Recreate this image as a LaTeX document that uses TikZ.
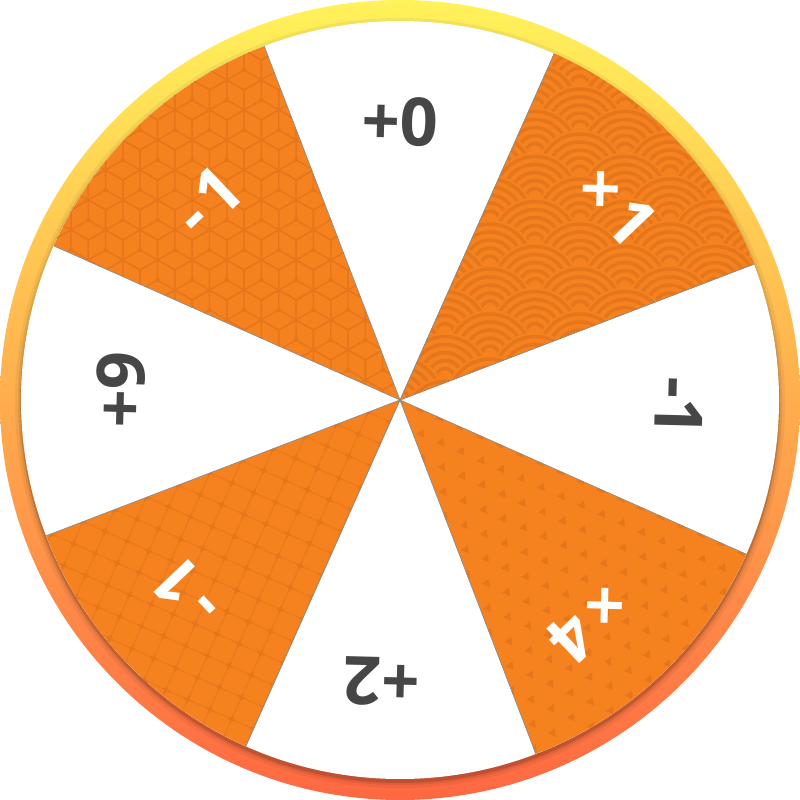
\documentclass[tikz,border=0pt]{standalone}
\usepackage{fontspec}
\setmainfont{Open Sans}

\definecolor{wheelorange}{HTML}{F5821F}
\definecolor{motif}{HTML}{E6761B}
\definecolor{labelgray}{HTML}{464646}
\definecolor{rimtop}{HTML}{FFF25A}
\definecolor{rimmid}{HTML}{FFA04B}
\definecolor{rimbottom}{HTML}{FF6842}

\begin{document}
\begin{tikzpicture}
    \tikzstyle{darklabel}=[text=labelgray,font=\bfseries\fontsize{19}{19}\selectfont,inner sep=0pt]
    \tikzstyle{lightlabel}=[darklabel,text=white]
    \tikzstyle{motifline}=[draw=motif,line width=0.4pt]
    \useasboundingbox (-4,-4) rectangle (4,4);
      % rim and its shadow
      \shade[top color=rimtop,middle color=rimmid,bottom color=rimbottom] (0,0) circle (4);
      \foreach \r/\o in {3.85/0.05,3.82/0.08,3.80/0.14}
        \fill[black,opacity=\o] (0,-0.03) circle (\r);
      \fill[white] (0,0) circle (3.79);
      % orange slices
      \foreach \a in {43.5,133.5,223.5,313.5}
        \fill[wheelorange] (0,0) -- (\a-22.5:3.79) arc[start angle=\a-22.5,end angle=\a+22.5,radius=3.79] -- cycle;
      % waves
      \begin{scope}
        \clip (0,0) -- (21:3.79) arc[start angle=21,end angle=66,radius=3.79] -- cycle;
        \foreach \i in {17,...,-1}{
          \foreach \j in {-1,...,4}{
            \pgfmathsetmacro\cx{0.9*\j+0.45*mod(\i,2)}
            \pgfmathsetmacro\cy{0.225*\i}
            \fill[wheelorange] (\cx,\cy) circle (0.45);
            \foreach \r in {0.41,0.33,0.25,0.17,0.09}
              \draw[motif,line width=0.035cm] (\cx,\cy) circle (\r);
          }
        }
      \end{scope}
      % blocks
      \begin{scope}
        \clip (0,0) -- (111:3.79) arc[start angle=111,end angle=156,radius=3.79] -- cycle;
        \foreach \i in {-1,...,13}{
          \foreach \j in {-11,...,1}{
            \pgfmathsetmacro\hx{0.3464*\j+0.1732*mod(\i,2)}
            \pgfmathsetmacro\hy{0.3*\i}
            \draw[motifline] (\hx,\hy) +(30:0.2) -- +(90:0.2) -- +(150:0.2) -- +(210:0.2) -- +(270:0.2) -- +(330:0.2) -- cycle;
            \draw[motifline] (\hx,\hy) -- +(90:0.2) (\hx,\hy) -- +(210:0.2) (\hx,\hy) -- +(330:0.2);
            \fill[motif] (\hx,\hy) circle (0.022);
          }
        }
      \end{scope}
      % triangles
      \begin{scope}
        \clip (0,0) -- (291:3.79) arc[start angle=291,end angle=336,radius=3.79] -- cycle;
        \begin{scope}[rotate=-24]
          \foreach \i in {-1,...,13}{
            \foreach \j in {-1,...,18}{
              \pgfmathsetmacro\tx{0.22*\j+0.11*mod(\i,2)}
              \pgfmathsetmacro\ty{-0.22*\i}
              \fill[motif] (\tx,\ty) +(90:0.05) -- +(210:0.05) -- +(330:0.05) -- cycle;
            }
          }
        \end{scope}
      \end{scope}
      % grid with crosses
      \begin{scope}
        \clip (0,0) -- (201:3.79) arc[start angle=201,end angle=246,radius=3.79] -- cycle;
        \begin{scope}[rotate=-24]
          \draw[motifline,draw=motif!60!wheelorange,step=0.24] (-4.08,-4.08) grid (0.24,0.24);
          \foreach \i in {0,...,17}{
            \foreach \j in {0,...,17}{
              \draw[motif,line width=0.6pt] (-0.24*\j,-0.24*\i) +(-0.035,0) -- +(0.035,0) +(0,-0.035) -- +(0,0.035);
            }
          }
        \end{scope}
      \end{scope}
      % slice edges
      \foreach \a in {43.5,133.5,223.5,313.5}
        \draw[black!45,line width=0.2pt] (\a-22.5:3.79) -- (0,0) -- (\a+22.5:3.79);
      % labels
      \node[darklabel,rotate=-1.5] (plus-zero) at (90:2.78) {+0};
      \node[lightlabel,rotate=-46.5] (times-one) at (42:2.91) {×\kern2pt1};
      \node[darklabel,rotate=-91.5] (minus-one-right) at (-1.4:2.79) {-1};
      \node[lightlabel,rotate=-136.5] (times-four) at (-49.7:2.91) {×\kern2pt4};
      \node[darklabel,rotate=178.5] (plus-two) at (-93.7:2.82) {+2};
      \node[lightlabel,rotate=133.5] (minus-one-low) at (-137.8:2.87) {-\kern2pt1};
      \node[darklabel,rotate=88.5] (plus-nine) at (178:2.79) {+9};
      \node[lightlabel,rotate=43.5] (minus-one-left) at (134:2.77) {-\kern2pt1};
    \end{tikzpicture}
\end{document}
